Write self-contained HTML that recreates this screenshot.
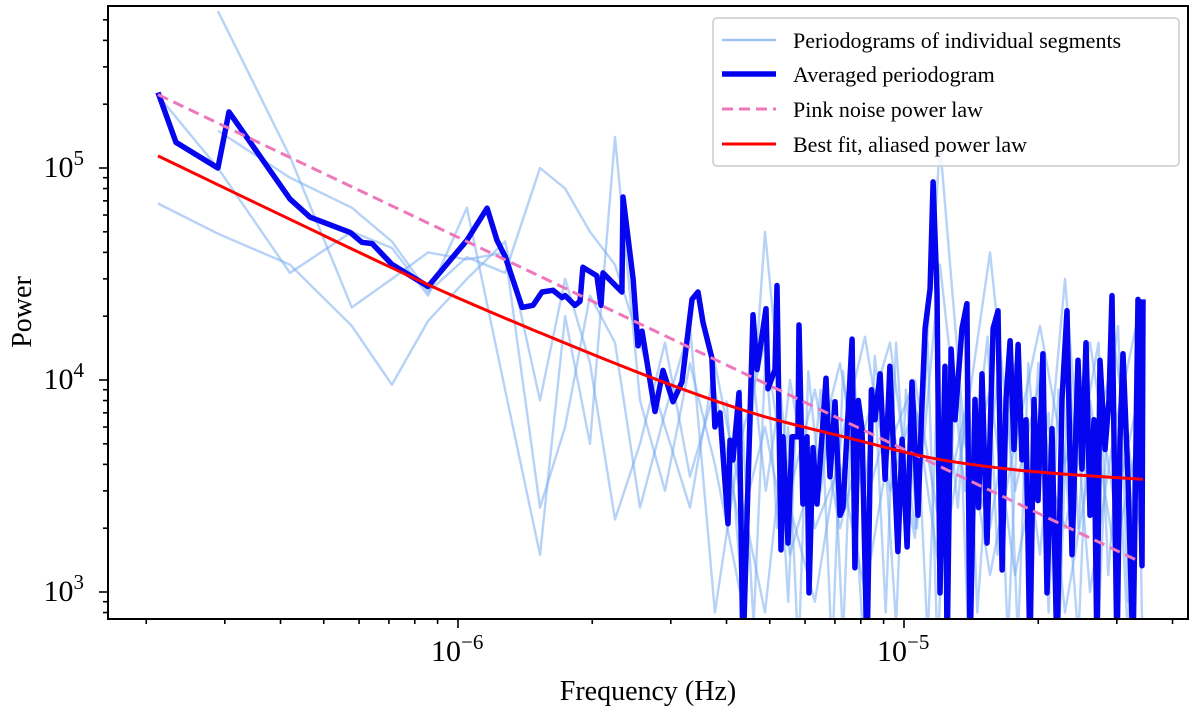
<!DOCTYPE html>
<html><head><meta charset="utf-8">
<style>
html,body{margin:0;padding:0;background:#fff;}
svg{display:block;font-family:"Liberation Serif","DejaVu Serif",serif;}
</style></head>
<body>
<svg id="chart" width="1200" height="712" viewBox="0 0 1200 712" xmlns="http://www.w3.org/2000/svg">
  <defs><clipPath id="plotclip"><rect x="108" y="6" width="1080" height="613"/></clipPath></defs>
  <rect x="0" y="0" width="1200" height="712" fill="#fff"/>
  <g id="ticks"></g>
  <g id="marks" clip-path="url(#plotclip)"></g>
  <rect x="108" y="6" width="1080" height="613" fill="none" stroke="#000" stroke-width="2"/>
  <text x="648" y="700" font-size="28" text-anchor="middle">Frequency (Hz)</text>
  <text transform="translate(31,312) rotate(-90)" font-size="28" text-anchor="middle">Power</text>
  <g>
    <rect x="713" y="18" width="466" height="148" rx="4" fill="#fff" fill-opacity="0.85" stroke="#ccc" stroke-width="1.5"/>
    <line x1="722" y1="40" x2="776" y2="40" stroke="rgb(160,195,245)" stroke-width="2.5"/>
    <text x="793" y="48" font-size="22">Periodograms of individual segments</text>
    <line x1="722" y1="74" x2="776" y2="74" stroke="#0000f0" stroke-width="5.5"/>
    <text x="793" y="82" font-size="22">Averaged periodogram</text>
    <line x1="722" y1="109" x2="776" y2="109" stroke="#ee77bb" stroke-width="3" stroke-dasharray="11,6"/>
    <text x="793" y="117" font-size="22">Pink noise power law</text>
    <line x1="722" y1="144" x2="776" y2="144" stroke="#ff0000" stroke-width="3"/>
    <text x="793" y="152" font-size="22">Best fit, aliased power law</text>
  </g>
</svg>
<script>
// ---- data ----
const avgFreq = [2.125e-7,2.332e-7,2.895e-7,3.066e-7,4.20e-7,4.66e-7,5.73e-7,6.09e-7,6.42e-7,7.11e-7,8.57e-7,1.047e-6,1.162e-6,1.223e-6,1.275e-6,1.392e-6,1.473e-6,1.543e-6,1.633e-6,1.711e-6,1.738e-6,1.829e-6,1.877e-6,1.906e-6,2.049e-6,2.092e-6,2.114e-6,2.331e-6,2.344e-6,2.469e-6,2.533e-6,2.586e-6,2.765e-6,2.882e-6,3.034e-6,3.178e-6,3.347e-6,3.452e-6,3.542e-6,3.710e-6,3.768e-6,3.867e-6,4.030e-6,4.072e-6,4.136e-6,4.266e-6,4.355e-6,4.586e-6,4.682e-6,4.904e-6,4.955e-6,5.137e-6,5.190e-6,5.298e-6,5.353e-6,5.493e-6,5.608e-6,5.784e-6,5.814e-6,5.935e-6,6.059e-6,6.124e-6,6.252e-6,6.381e-6,6.548e-6,6.685e-6,6.825e-6,7.003e-6,7.187e-6,
7.30e-6,7.65e-6,7.76e-6,7.90e-6,8.05e-6,8.26e-6,8.45e-6,8.61e-6,8.84e-6,9.07e-6,9.30e-6,9.50e-6,9.69e-6,9.90e-6,1.016e-5,1.042e-5,1.075e-5,1.095e-5,1.115e-5,1.144e-5,1.162e-5,1.186e-5,1.204e-5,1.236e-5,1.249e-5,1.275e-5,1.301e-5,1.349e-5,1.384e-5,1.406e-5,1.443e-5,1.470e-5,1.496e-5,1.535e-5,1.584e-5,1.625e-5,1.659e-5,1.693e-5,1.729e-5,1.765e-5,1.802e-5,1.839e-5,1.877e-5,1.916e-5,1.956e-5,1.997e-5,2.049e-5,2.092e-5,2.147e-5,2.203e-5,2.261e-5,2.320e-5,2.380e-5,2.455e-5,2.507e-5,2.559e-5,2.612e-5,2.667e-5,2.709e-5,2.751e-5,2.823e-5,2.882e-5,2.927e-5,3.003e-5,3.050e-5,3.097e-5,3.178e-5,3.262e-5,3.347e-5,3.417e-5,3.435e-5];
const avgPower = [2.27e5,1.32e5,1.0e5,1.84e5,7.13e4,5.86e4,4.97e4,4.46e4,4.4e4,3.51e4,2.76e4,4.56e4,6.46e4,4.56e4,3.83e4,2.2e4,2.25e4,2.6e4,2.65e4,2.45e4,2.5e4,2.25e4,2.35e4,3.4e4,3.1e4,2.25e4,3.2e4,2.6e4,7.3e4,3.0e4,1.45e4,1.7e4,7.1e3,1.11e4,7.9e3,9.8e3,2.4e4,2.6e4,1.87e4,1.27e4,6.0e3,7.0e3,2.1e3,5.2e3,4.2e3,8.7e3,500,2.03e4,1.12e4,2.17e4,9.1e3,1.12e4,2.79e4,1.58e3,5.4e3,1.7e3,5.4e3,5.4e3,1.82e4,2.6e3,5.4e3,990,4.8e3,2.6e3,5.4e3,1.02e4,3.5e3,7.9e3,2.3e3,
2.5e3,1.56e4,1.3e3,8.0e3,5.9e3,500,9.0e3,6.5e3,1.07e4,3.4e3,1.16e4,4.0e3,1.55e3,5.25e3,1.63e3,9.8e3,2.3e3,7.0e3,1.75e4,2.7e4,8.6e4,2.6e4,990,1.16e4,500,1.4e4,6.5e3,1.75e4,2.29e4,500,8.1e3,2.5e3,1.07e4,1.7e3,1.75e4,2.12e4,1.27e3,8.1e3,1.53e4,4.7e3,1.47e4,4.2e3,6.5e3,500,8.1e3,2.7e3,1.33e4,990,5.9e3,500,8.1e3,2.12e4,1.5e3,1.24e4,3.8e3,1.5e4,2.3e3,6.5e3,500,1.24e4,4.7e3,8.1e3,2.5e4,500,5.25e3,1.33e4,3.4e3,500,2.4e4,1.33e3,2.4e4];

const segFreq = [2.125e-7,2.895e-7,4.20e-7,5.78e-7,7.11e-7,8.57e-7,1.047e-6,1.275e-6,1.527e-6,1.738e-6,1.977e-6,2.249e-6,2.559e-6,2.911e-6,3.312e-6,3.768e-6,4.288e-6,4.878e-6,5.550e-6,6.314e-6,7.187e-6,8.178e-6,9.303e-6,1.058e-5,1.204e-5,1.370e-5,1.559e-5,1.774e-5,2.018e-5,2.296e-5,2.612e-5,2.972e-5,3.381e-5];
const seg1Power = [6.8e4,4.9e4,3.5e4,1.8e4,9.5e3,1.9e4,3.0e4,4.5e4,8e3,3.0e4,1.2e4,2.2e3,5e3,1.5e4,3.5e3,9e3,2.0e3,6e3,1.5e3,4e3,1.2e4,2.5e3,7e3,1.8e3,3.5e4,3e3,9e3,1.2e3,5e3,2e3,8e3,1.5e3,6e3];
const seg2Power = [null,5.5e5,1.13e5,2.2e4,3.0e4,4.0e4,3.7e4,4.0e4,2.5e3,6e3,2.5e4,1.5e4,2.5e3,7e3,1.8e4,800,5e3,1.5e4,2.5e3,900,5e3,1.6e4,3e3,8e3,1.2e3,6e3,4e4,3e3,1e4,800,4e3,1.4e4,2e3];
const seg3Power = [2.2e5,1.0e5,3.2e4,5.0e4,4.2e4,2.5e4,6.5e4,9e3,1.5e3,2e4,5e3,1.4e5,8e3,3e3,1.2e4,4e3,1.0e3,5e4,3e3,9e3,2e3,6e3,1.5e4,2e3,1.3e5,5e3,2e3,1.2e4,1.5e3,3e4,1e3,6e3,2.2e4];
const seg4Power = [null,1.5e5,9e4,6.5e4,4.5e4,2.6e4,3.8e4,3.2e4,1.0e5,8e4,5e4,3.5e4,1.5e4,6e3,2.5e3,1.2e4,3e3,800,1.0e4,2e3,4e3,1e3,5e3,1.0e4,2e3,7e3,1.2e3,5e3,1.8e4,4e3,1.5e4,2.5e3,9e3];

const denseFreq = [4.0e-6,4.3e-6,4.6e-6,4.9e-6,5.2e-6,5.5e-6,5.8e-6,6.1e-6,6.5e-6,6.9e-6,7.3e-6,7.7e-6,8.1e-6,8.6e-6,9.1e-6,9.6e-6,1.01e-5,1.07e-5,1.13e-5,1.19e-5,1.25e-5,1.32e-5,1.39e-5,1.46e-5,1.54e-5,1.62e-5,1.71e-5,1.80e-5,1.90e-5,2.00e-5,2.11e-5,2.22e-5,2.34e-5,2.46e-5,2.59e-5,2.73e-5,2.87e-5,3.02e-5,3.18e-5,3.34e-5,3.43e-5];
const dense1Power = [3e3,9e3,700,1.4e4,2e3,6e3,500,1.1e4,3e3,8e3,600,1.2e4,2.5e3,9e3,800,1.5e4,3e3,7e3,600,1.0e4,2e3,1.3e4,700,6e3,1.6e4,1.5e3,9e3,600,1.2e4,3e3,7e3,500,1.4e4,2e3,1.1e4,700,8e3,1.8e4,900,1.0e4,500];
const dense2Power = [8e3,1.2e3,1.0e4,3e3,7e3,900,1.2e4,2e3,9e3,500,1.1e4,3.5e3,600,1.3e4,4e3,700,9e3,2e3,1.5e4,500,8e3,2.5e3,1.1e4,800,4e3,1.0e4,600,7e3,2e3,1.2e4,800,9e3,2.5e3,600,8e3,1.5e4,1.2e3,5e3,600,1.2e4,2e3];

const fitFreq = [2.125e-7,4.24e-7,8.65e-7,1.527e-6,2.737e-6,4.586e-6,7.57e-6,1.162e-5,1.916e-5,3.435e-5];
const fitPower = [1.14e5,5.67e4,2.79e4,1.67e4,1.02e4,6.97e3,5.31e3,4.27e3,3.71e3,3.40e3];

const pinkFreq = [2.125e-7,3.381e-5];
const pinkPower = [2.22e5,1.39e3];

const yTickValues = [1e3,1e4,1e5];
const yTickLabels = ["3","4","5"];
const xTickValues = [1e-6,1e-5];
const xTickLabels = ["−6","−5"];

// ---- axes ----
const X0 = 458, XDEC = 446;
const Y0 = 592, YDEC = 212;
function xs(f){ return X0 + XDEC*(Math.log10(f)+6); }
function ys(p){ return Y0 - YDEC*(Math.log10(p)-3); }

const NS = "http://www.w3.org/2000/svg";
const marks = document.getElementById('marks');
const ticks = document.getElementById('ticks');

function polyline(freq, power, stroke, width, name, extra){
  let d = "", started = false;
  for (let i=0;i<freq.length;i++){
    if (power[i]==null){ started=false; continue; }
    d += (started?"L":"M") + xs(freq[i]).toFixed(1) + "," + ys(power[i]).toFixed(1);
    started = true;
  }
  const p = document.createElementNS(NS,'path');
  p.setAttribute('d', d);
  p.setAttribute('fill','none');
  p.setAttribute('stroke', stroke);
  p.setAttribute('stroke-width', width);
  p.setAttribute('stroke-linejoin','round');
  if (extra) for (const k in extra) p.setAttribute(k, extra[k]);
  
  
  marks.appendChild(p);
}
function smoothLine(freq, power, stroke, width, name){
  const pts = freq.map((f,i)=>[xs(f), ys(power[i])]);
  let d = "M"+pts[0][0].toFixed(1)+","+pts[0][1].toFixed(1);
  for (let i=0;i<pts.length-1;i++){
    const p0=pts[Math.max(0,i-1)], p1=pts[i], p2=pts[i+1], p3=pts[Math.min(pts.length-1,i+2)];
    const c1=[p1[0]+(p2[0]-p0[0])/6, p1[1]+(p2[1]-p0[1])/6];
    const c2=[p2[0]-(p3[0]-p1[0])/6, p2[1]-(p3[1]-p1[1])/6];
    d += "C"+c1[0].toFixed(1)+","+c1[1].toFixed(1)+" "+c2[0].toFixed(1)+","+c2[1].toFixed(1)+" "+p2[0].toFixed(1)+","+p2[1].toFixed(1);
  }
  const p = document.createElementNS(NS,'path');
  p.setAttribute('d', d);
  p.setAttribute('fill','none');
  p.setAttribute('stroke', stroke);
  p.setAttribute('stroke-width', width);
  
  
  marks.appendChild(p);
}

const segColor = "rgba(110,165,240,0.5)";
polyline(segFreq, seg1Power, segColor, 2.4, 'segment-periodogram-1');
polyline(segFreq, seg2Power, segColor, 2.4, 'segment-periodogram-2');
polyline(segFreq, seg3Power, segColor, 2.4, 'segment-periodogram-3');
polyline(segFreq, seg4Power, segColor, 2.4, 'segment-periodogram-4');
polyline(denseFreq, dense1Power, segColor, 2.4, 'segment-periodogram-5');
polyline(denseFreq, dense2Power, segColor, 2.4, 'segment-periodogram-6');
polyline(avgFreq, avgPower, "#0505f0", 5.5, 'averaged-periodogram-line');
polyline(pinkFreq, pinkPower, "#ee77bb", 3, 'pink-noise-line', {'stroke-dasharray':'11,6'});
smoothLine(fitFreq, fitPower, "#ff0000", 3, 'best-fit-line');

// ---- ticks ----
function tickLine(x1,y1,x2,y2,name){
  const l = document.createElementNS(NS,'line');
  l.setAttribute('x1',x1); l.setAttribute('y1',y1); l.setAttribute('x2',x2); l.setAttribute('y2',y2);
  l.setAttribute('stroke','#000'); l.setAttribute('stroke-width','1.6');
  
  
  ticks.appendChild(l);
}
for (let dec=2; dec<=5; dec++){
  for (let m=1; m<=9; m++){
    const v = m*Math.pow(10,dec);
    const y = ys(v);
    if (y < 6 || y > 619) continue;
    tickLine(108, y, m===1?99:103, y, m===1?'y-major-tick':'y-minor-tick');
  }
}
for (let dec=-7; dec<=-4; dec++){
  for (let m=1; m<=9; m++){
    const v = m*Math.pow(10,dec);
    const x = xs(v);
    if (x < 108 || x > 1188) continue;
    tickLine(x, 619, x, m===1?628:624, m===1?'x-major-tick':'x-minor-tick');
  }
}
yTickValues.forEach((v,i)=>{
  const t = document.createElementNS(NS,'text');
  t.setAttribute('x', 84); t.setAttribute('y', ys(v)+9);
  t.setAttribute('font-size','30'); t.setAttribute('text-anchor','end');
  
  
  t.innerHTML = '10<tspan font-size="21" dy="-12">'+yTickLabels[i]+'</tspan>';
  ticks.appendChild(t);
});
xTickValues.forEach((v,i)=>{
  const t = document.createElementNS(NS,'text');
  t.setAttribute('x', xs(v)-27); t.setAttribute('y', 661);
  t.setAttribute('font-size','30');
  
  
  t.innerHTML = '10<tspan font-size="21" dy="-12">'+xTickLabels[i]+'</tspan>';
  ticks.appendChild(t);
});
</script>
</body></html>
